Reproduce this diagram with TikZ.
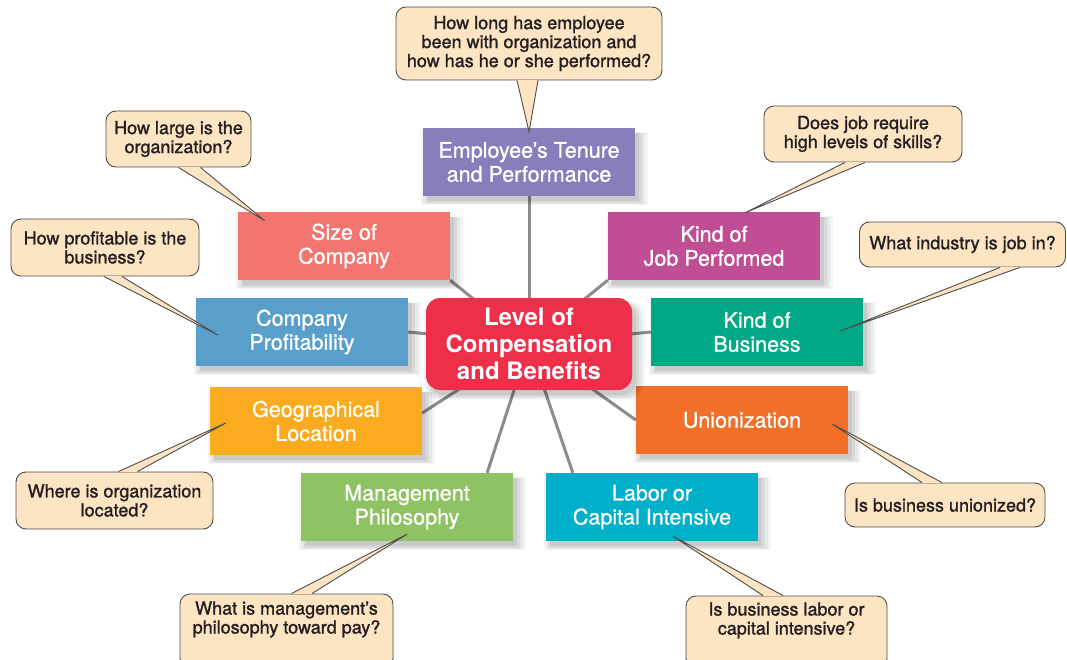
\documentclass[tikz,border=0pt]{standalone}
\usepackage{fontspec}
\setmainfont{TeX Gyre Heros}
\newfontfamily\boxfont{TeX Gyre Heros}[FakeBold=0.9]
\newfontfamily\callfont{TeX Gyre Heros}[FakeBold=1.3]
\usetikzlibrary{calc,shadows,backgrounds}
\pgfdeclarelayer{paper}
\pgfsetlayers{paper,background,main}
\definecolor{cTenure}{HTML}{8A7DBB}
\definecolor{cSize}{HTML}{F2766F}
\definecolor{cJob}{HTML}{BF4E94}
\definecolor{cProfit}{HTML}{589FCC}
\definecolor{cBiz}{HTML}{00A886}
\definecolor{cGeo}{HTML}{FAAB20}
\definecolor{cUnion}{HTML}{F26F27}
\definecolor{cMgmt}{HTML}{8EC263}
\definecolor{cLabor}{HTML}{00B0C9}
\definecolor{cCenter}{HTML}{EE2F4A}
\definecolor{cCall}{HTML}{FDE4C3}
\definecolor{cCallLine}{HTML}{4D4D4D}
\definecolor{cText}{HTML}{231F20}
\definecolor{cConn}{HTML}{8C8C8C}
\newcommand{\callptr}[3]{%
  \fill[cCall] #1 -- #3 -- #2 -- cycle;
  \draw[cCall, line width=1.8pt] #1 -- #2;
  \draw[cCallLine, line width=0.9pt, line join=miter] #1 -- #3 -- #2;
}
\begin{document}
\begin{tikzpicture}[x=1pt,y=-1pt,
  softshadow/.style={
    general shadow={fill=black, opacity=0.04, shadow xshift=5pt, shadow yshift=-6pt, shadow scale=1.07},
    general shadow={fill=black, opacity=0.05, shadow xshift=5pt, shadow yshift=-6pt, shadow scale=1.045},
    general shadow={fill=black, opacity=0.06, shadow xshift=5pt, shadow yshift=-6pt, shadow scale=1.02},
    general shadow={fill=black, opacity=0.07, shadow xshift=4pt, shadow yshift=-5pt, shadow scale=1.0}},
  factor/.style={minimum width=212pt, minimum height=68pt, inner sep=0pt,
    text=white, align=center, font=\boxfont\fontsize{21.5}{24}\selectfont,
    softshadow},
  hub/.style={minimum width=206pt, minimum height=92pt, inner sep=0pt,
    rounded corners=14pt, fill=cCenter, text=white, align=center,
    font=\bfseries\fontsize{24}{27}\selectfont, softshadow},
  callout/.style={draw=cCallLine, line width=0.9pt, fill=cCall,
    rounded corners=10pt, text=cText, align=center, inner sep=0pt,
    font=\callfont\fontsize{18}{19}\selectfont},
  conn/.style={draw=cConn, line width=3pt}]
\begin{pgfonlayer}{paper}
\fill[white] (0,0) rectangle (1067,660);
\end{pgfonlayer}
\useasboundingbox (0,0) rectangle (1067,660);

% factor boxes
\node[factor, fill=cTenure] (tenure) at (529,162) {Employee’s Tenure\\and Performance};
\node[factor, fill=cSize] (size) at (344,246) {Size of\\Company};
\node[factor, fill=cJob] (job) at (714,246) {Kind of\\Job Performed};
\node[factor, fill=cProfit] (profit) at (302,332) {Company\\Profitability};
\node[factor, fill=cBiz] (biz) at (757,332) {Kind of\\Business};
\node[factor, fill=cGeo] (geo) at (316,421) {Geographical\\Location};
\node[factor, fill=cUnion] (union) at (742,420) {Unionization};
\node[factor, fill=cMgmt] (mgmt) at (407,507) {Management\\Philosophy};
\node[factor, fill=cLabor] (labor) at (652,507) {Labor or\\Capital Intensive};
\node[hub] (hub) at (529,344) {Level of\\Compensation\\and Benefits};

% connectors
\begin{pgfonlayer}{background}
\draw[conn] (hub.center) -- (tenure.south);
\draw[conn] (hub.center) -- (size.south east);
\draw[conn] (hub.center) -- (job.south west);
\draw[conn] (hub.center) -- (profit.east);
\draw[conn] (hub.center) -- (biz.west);
\draw[conn] (hub.center) -- ($(geo.east)+(0,-8)$);
\draw[conn] (hub.center) -- (union.west);
\draw[conn] (hub.center) -- ($(mgmt.north east)+(-26,0)$);
\draw[conn] (hub.center) -- ($(labor.north west)+(27,0)$);
\end{pgfonlayer}

% callouts
\node[callout, minimum width=266pt, minimum height=73pt] (qtenure) at (529,43.5)
  {How long has employee\\been with organization and\\how has he or she performed?};
\node[callout, minimum width=145pt, minimum height=56pt] (qsize) at (178.5,139)
  {How large is the\\organization?};
\node[callout, minimum width=188pt, minimum height=57pt] (qprofit) at (105,247.5)
  {How profitable is the\\business?};
\node[callout, minimum width=198pt, minimum height=56pt] (qjob) at (863,134)
  {Does job require\\high levels of skills?};
\node[callout, minimum width=206pt, minimum height=45pt] (qbiz) at (962.5,244.5)
  {What industry is job in?};
\node[callout, minimum width=197pt, minimum height=57pt] (qgeo) at (114.5,500.5)
  {Where is organization\\located?};
\node[callout, minimum width=200pt, minimum height=44pt] (qunion) at (945,505)
  {Is business unionized?};
\node[callout, minimum width=213pt, minimum height=74pt] (qmgmt) at (286.5,631)
  {What is management’s\\philosophy toward pay?\\[8pt]};
\node[callout, minimum width=201pt, minimum height=72pt] (qlabor) at (786.5,632)
  {Is business labor or\\capital intensive?\\[8pt]};

% pointers
\callptr{($(qtenure.south)+(-12,0)$)}{($(qtenure.south)+(9,0)$)}{($(tenure.north)+(0,4)$)}
\callptr{($(qsize.south)+(0,0)$)}{($(qsize.south)+(22,0)$)}{($(size.north west)+(27,9)$)}
\callptr{($(qprofit.south)+(-1,0)$)}{($(qprofit.south)+(17,0)$)}{($(profit.west)+(22,3)$)}
\callptr{($(qjob.south)+(-18,0)$)}{($(qjob.south)+(2,0)$)}{($(job.north)+(31,1)$)}
\callptr{($(qbiz.south)+(37.5,0)$)}{($(qbiz.south)+(57.5,0)$)}{($(biz.east)+(-23,-1)$)}
\callptr{($(qgeo.north)+(4,0)$)}{($(qgeo.north)+(23,0)$)}{($(geo.west)+(16,2)$)}
\callptr{($(qunion.north)+(-23,0)$)}{($(qunion.north)+(-3,0)$)}{($(union.east)+(-16,4)$)}
\callptr{($(qmgmt.north)+(5,0)$)}{($(qmgmt.north)+(25.5,0)$)}{($(mgmt.south)+(0,-7)$)}
\callptr{($(qlabor.north)+(-23.5,0)$)}{($(qlabor.north)+(-3.5,0)$)}{($(labor.south)+(21,-5)$)}
\end{tikzpicture}
\end{document}
